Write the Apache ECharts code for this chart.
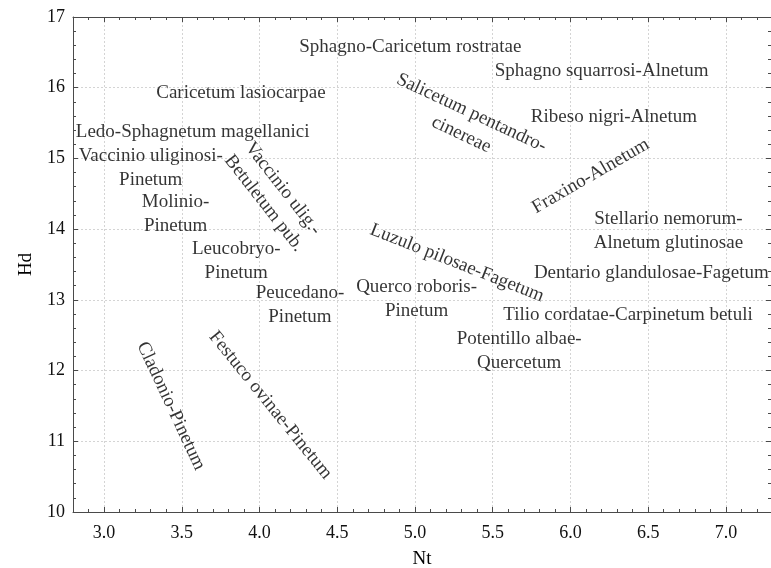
<!DOCTYPE html>
<html>
<head>
<meta charset="utf-8">
<script src="https://cdn.jsdelivr.net/npm/echarts@6/dist/echarts.min.js"></script>
<style>
html,body{margin:0;padding:0;background:#fff;}
#chart{width:771px;height:568px;}
</style>
</head>
<body>
<div id="chart"></div>
<script>
// Community names (labels drawn at their Nt / Hd position)
const communities = [
  'Sphagno-Caricetum rostratae',
  'Sphagno squarrosi-Alnetum',
  'Caricetum lasiocarpae',
  'Ledo-Sphagnetum magellanici',
  'Vaccinio uliginosi-\nPinetum',
  'Molinio-\nPinetum',
  'Leucobryo-\nPinetum',
  'Peucedano-\nPinetum',
  'Querco roboris-\nPinetum',
  'Tilio cordatae-Carpinetum betuli',
  'Potentillo albae-\nQuercetum',
  'Dentario glandulosae-Fagetum',
  'Stellario nemorum-\nAlnetum glutinosae',
  'Ribeso nigri-Alnetum',
  'Salicetum pentandro-\ncinereae',
  'Fraxino-Alnetum',
  'Luzulo pilosae-Fagetum',
  'Vaccinio ulig.-\nBetuletum pub.',
  'Cladonio-Pinetum',
  'Festuco ovinae-Pinetum'
];
// Nt values (x)
const ntValues = [4.97, 6.20, 3.88, 3.57, 3.30, 3.46, 3.85, 4.26, 5.01, 6.37,
                  5.67, 6.52, 6.63, 6.28, 5.33, 6.13, 5.27, 4.09, 3.43, 4.07];
// Hd values (y)
const hdValues = [16.58, 16.24, 15.93, 15.38, 14.87, 14.22, 13.55, 12.93, 13.01, 12.79,
                  12.27, 13.38, 13.98, 15.58, 15.49, 14.75, 13.52, 14.47, 11.50, 11.51];
// label rotation (style)
const labelAngles = [0, 0, 0, 0, 0, 0, 0, 0, 0, 0,
                     0, 0, 0, 0, -25, 30, -21.5, -52, -65, -51];

const yTicks = [10, 11, 12, 13, 14, 15, 16, 17];

const FONT = 'Liberation Serif, Times New Roman, serif';
const axisColor = '#4a4a4a';

const seriesData = communities.map((name, i) => ({
  name: name,
  value: [ntValues[i], hdValues[i]],
  label: { rotate: labelAngles[i] }
}));

const chart = echarts.init(document.getElementById('chart'), null, { renderer: 'canvas' });

const hiddenSplit = { show: false };

chart.setOption({
  animation: false,
  backgroundColor: '#ffffff',
  grid: { left: 73, right: 0, top: 17, bottom: 56, containLabel: false, outerBoundsMode: 'none' },
  xAxis: [
    {
      type: 'value',
      min: 2.8,
      max: 7.29,
      splitNumber: 9,
      position: 'bottom',
      name: 'Nt',
      nameLocation: 'middle',
      nameGap: 38,
      nameTextStyle: { fontFamily: FONT, fontSize: 19, color: '#000' },
      axisLine: { show: true, lineStyle: { color: axisColor, width: 1 } },
      axisTick: { show: true, inside: true, length: 5, lineStyle: { color: axisColor } },
      minorTick: { show: true, splitNumber: 5, length: 3, lineStyle: { color: axisColor } },
      axisLabel: {
        show: true, margin: 12, fontFamily: FONT, fontSize: 18, color: '#111',
        showMinLabel: false, showMaxLabel: false,
        formatter: v => v.toFixed(1)
      },
      splitLine: { show: true, lineStyle: { color: '#d4d4d4', type: [2, 2], width: 1 } }
    },
    {
      type: 'value',
      min: 2.8,
      max: 7.29,
      splitNumber: 9,
      position: 'top',
      axisLine: { show: true, lineStyle: { color: axisColor, width: 1 } },
      axisTick: { show: true, inside: true, length: 5, lineStyle: { color: axisColor } },
      minorTick: { show: true, splitNumber: 5, length: 3, lineStyle: { color: axisColor } },
      axisLabel: { show: false },
      splitLine: hiddenSplit
    }
  ],
  yAxis: [
    {
      type: 'value',
      min: yTicks[0],
      max: yTicks[yTicks.length - 1],
      interval: 1,
      position: 'left',
      name: 'Hd',
      nameLocation: 'middle',
      nameGap: 37,
      nameTextStyle: { fontFamily: FONT, fontSize: 19, color: '#000' },
      axisLine: { show: true, lineStyle: { color: axisColor, width: 1 } },
      axisTick: { show: true, inside: true, length: 5, lineStyle: { color: axisColor } },
      minorTick: { show: true, splitNumber: 5, length: 3, lineStyle: { color: axisColor } },
      axisLabel: { show: true, margin: 8, fontFamily: FONT, fontSize: 18, color: '#111' },
      splitLine: { show: true, lineStyle: { color: '#d4d4d4', type: [2, 2], width: 1 } }
    },
    {
      type: 'value',
      min: yTicks[0],
      max: yTicks[yTicks.length - 1],
      interval: 1,
      position: 'right',
      axisLine: { show: false },
      axisTick: { show: true, inside: true, length: 5, lineStyle: { color: axisColor } },
      minorTick: { show: true, splitNumber: 5, length: 3, lineStyle: { color: axisColor } },
      axisLabel: { show: false },
      splitLine: hiddenSplit
    }
  ],
  series: [
    {
      type: 'scatter',
      xAxisIndex: 0,
      yAxisIndex: 0,
      symbolSize: 0.1,
      itemStyle: { color: 'rgba(0,0,0,0)' },
      silent: true,
      label: {
        show: true,
        position: 'inside',
        formatter: p => p.name,
        fontFamily: FONT,
        fontSize: 19,
        lineHeight: 24,
        color: '#000',
        align: 'center',
        verticalAlign: 'middle'
      },
      labelLayout: { hideOverlap: false },
      emphasis: { disabled: true },
      data: seriesData
    }
  ]
});
</script>
</body>
</html>
